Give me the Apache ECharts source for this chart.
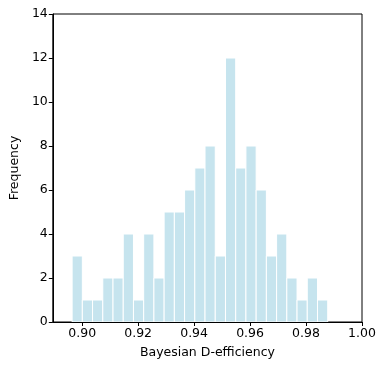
<!DOCTYPE html>
<html>
<head>
<meta charset="utf-8">
<script src="https://cdn.jsdelivr.net/npm/echarts@6/dist/echarts.min.js"></script>
<style>
  html, body { margin: 0; padding: 0; background: #fff; }
  #chart { width: 384px; height: 370px; }
</style>
</head>
<body>
<div id="chart"></div>
<script>
// histogram bins: start edge, width, counts
const binStart = 0.8964
const binWidth = 0.003654
const counts = [3, 1, 1, 2, 2, 4, 1, 4, 2, 5, 5, 6, 7, 8, 3, 12, 7, 8, 6, 3, 4, 2, 1, 2, 1]
const xTicks = [0.90, 0.92, 0.94, 0.96, 0.98, 1.00]
const yTicks = [0, 2, 4, 6, 8, 10, 12, 14]

const bins = counts.map((c, i) => [binStart + i * binWidth, binStart + (i + 1) * binWidth, c])

const chart = echarts.init(document.getElementById('chart'))
const font = 'DejaVu Sans'
const fs = 12.5

chart.setOption({
  animation: false,
  backgroundColor: '#fff',
  grid: {
    left: 52, right: 22, top: 14, bottom: 48,
    show: true, borderColor: '#000', borderWidth: 1
  },
  xAxis: {
    type: 'value',
    min: 0.8895,
    max: 1.0,
    zlevel: 1,
    name: 'Bayesian D-efficiency',
    nameLocation: 'middle',
    nameGap: 24,
    nameTextStyle: { fontFamily: font, fontSize: fs, color: '#000' },
    axisLine: { show: true, lineStyle: { color: '#000' } },
    axisTick: { show: true, length: 4, lineStyle: { color: '#000' }, customValues: xTicks },
    axisLabel: {
      fontFamily: font, fontSize: fs, color: '#000', margin: 5,
      customValues: xTicks,
      formatter: v => v.toFixed(2)
    },
    splitLine: { show: false }
  },
  yAxis: {
    type: 'value',
    min: 0,
    max: 14,
    interval: 2,
    zlevel: 1,
    name: 'Frequency',
    nameLocation: 'middle',
    nameGap: 29,
    nameTextStyle: { fontFamily: font, fontSize: fs, color: '#000' },
    axisLine: { show: true, lineStyle: { color: '#000' } },
    axisTick: { show: true, length: 4, lineStyle: { color: '#000' } },
    axisLabel: { fontFamily: font, fontSize: fs, color: '#000', margin: 5 },
    splitLine: { show: false }
  },
  series: [{
    type: 'custom',
    data: bins,
    renderItem: (params, api) => {
      const p0 = api.coord([api.value(0), 0])
      const p1 = api.coord([api.value(1), api.value(2)])
      return {
        type: 'rect',
        shape: { x: p0[0], y: p1[1], width: p1[0] - p0[0], height: p0[1] - p1[1] },
        style: { fill: '#c6e4ee', stroke: '#ffffff', lineWidth: 1 }
      }
    }
  }]
})
</script>
</body>
</html>
